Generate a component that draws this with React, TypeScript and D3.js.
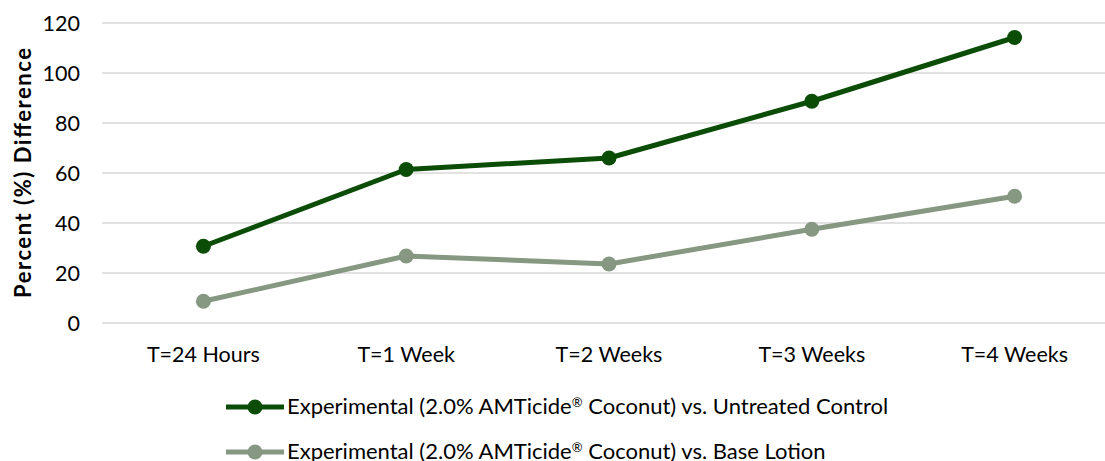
import React, { useEffect, useRef } from "react";
import * as d3 from "d3";

const categories = ["T=24 Hours", "T=1 Week", "T=2 Weeks", "T=3 Weeks", "T=4 Weeks"];
const untreated = [30.7, 61.4, 66.0, 88.7, 114.2];
const baseLotion = [8.7, 26.8, 23.6, 37.5, 50.7];
const yTicks = [0, 20, 40, 60, 80, 100, 120];
const seriesNames = [
  "Experimental (2.0% AMTicide\u00AE Coconut) vs. Untreated Control",
  "Experimental (2.0% AMTicide\u00AE Coconut) vs. Base Lotion",
];
const colors = ["#0b4d06", "#869782"];

const width = 1105;
const height = 461;
const font = "Lato, 'Open Sans', sans-serif";

const App = () => {
  const ref = useRef<SVGSVGElement>(null);

  useEffect(() => {
    const svg = d3.select(ref.current);
    svg.selectAll("*").remove();

    const margin = { top: 23, left: 102, bottom: 138 };
    const x = d3
      .scaleBand()
      .domain(categories)
      .range([margin.left, margin.left + 5 * 202.8]);
    const y = d3.scaleLinear().domain([0, 120]).range([height - margin.bottom, margin.top]);

    // gridlines
    svg
      .append("g")
      .selectAll("line")
      .data(yTicks)
      .enter()
      .append("line")
      .attr("x1", margin.left)
      .attr("x2", width)
      .attr("y1", (d) => y(d))
      .attr("y2", (d) => y(d))
      .attr("stroke", "#d9d9d9")
      .attr("stroke-width", 1.5);

    // y tick labels
    svg
      .append("g")
      .selectAll("text")
      .data(yTicks)
      .enter()
      .append("text")
      .attr("x", 80)
      .attr("y", (d) => y(d) + 8)
      .attr("text-anchor", "end")
      .style("font-family", font)
      .style("font-size", "21.5px")
      .attr("fill", "#000")
      .text((d) => d);

    // x labels
    svg
      .append("g")
      .selectAll("text")
      .data(categories)
      .enter()
      .append("text")
      .attr("x", (d) => x(d)! + x.bandwidth() / 2)
      .attr("y", 362)
      .attr("text-anchor", "middle")
      .style("font-family", font)
      .style("font-size", "21.5px")
      .attr("fill", "#000")
      .text((d) => d);

    // y axis title
    svg
      .append("text")
      .attr("transform", `translate(31,${y(60)}) rotate(-90)`)
      .attr("text-anchor", "middle")
      .attr("textLength", 250)
      .attr("lengthAdjust", "spacing")
      .style("font-family", font)
      .style("font-size", "22px")
      .style("font-weight", "bold")
      .attr("fill", "#000")
      .text("Percent (%) Difference");

    const series = [untreated, baseLotion];
    const line = d3
      .line<number>()
      .x((_, i) => x(categories[i])! + x.bandwidth() / 2)
      .y((d) => y(d));

    // draw lighter series first, dark on top
    [1, 0].forEach((s) => {
      const g = svg.append("g");
      g.append("path")
        .datum(series[s])
        .attr("d", line)
        .attr("fill", "none")
        .attr("stroke", colors[s])
        .attr("stroke-width", 5)
        .attr("stroke-linejoin", "round");
      g.selectAll("circle")
        .data(series[s])
        .enter()
        .append("circle")
        .attr("cx", (_, i) => x(categories[i])! + x.bandwidth() / 2)
        .attr("cy", (d) => y(d))
        .attr("r", 7.5)
        .attr("fill", colors[s]);
    });

    // legend
    const legend = svg.append("g");
    seriesNames.forEach((name, i) => {
      const ly = 407 + i * 45;
      legend
        .append("line")
        .attr("x1", 226)
        .attr("x2", 284)
        .attr("y1", ly)
        .attr("y2", ly)
        .attr("stroke", colors[i])
        .attr("stroke-width", 5);
      legend.append("circle").attr("cx", 255).attr("cy", ly).attr("r", 7.5).attr("fill", colors[i]);
      const [before, after] = name.split("\u00AE");
      const t = legend
        .append("text")
        .attr("x", 287)
        .attr("y", ly + 7)
        .style("font-family", font)
        .style("font-size", "22px")
        .attr("fill", "#000");
      t.append("tspan").text(before);
      t.append("tspan").attr("dy", -7).style("font-size", "13px").text("\u00AE");
      t.append("tspan").attr("dy", 7).text(after);
    });
  }, []);

  return (
    <div style={{ position: "absolute", left: 0, top: 0 }}>
      <svg ref={ref} width={width} height={height} style={{ display: "block", background: "#fff" }}></svg>
    </div>
  );
};

export default App;
